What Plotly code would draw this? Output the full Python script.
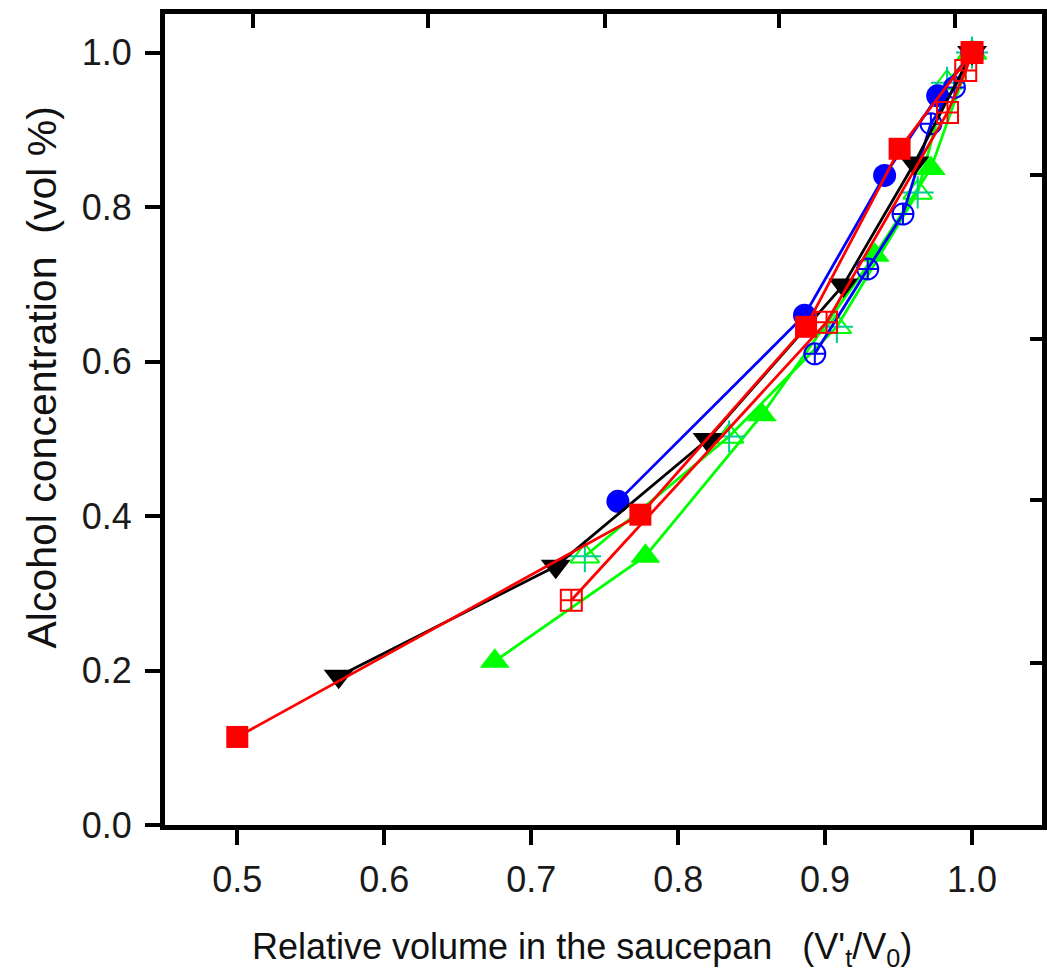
import plotly.graph_objects as go

# ---- data ----
blue_fill_x = [0.759, 0.886, 0.9405, 0.9766, 1.0]
blue_fill_y = [0.419, 0.660, 0.841, 0.944, 1.0]

blue_open_x = [0.893, 0.929, 0.953, 0.972, 0.988, 1.0]
blue_open_y = [0.610, 0.720, 0.791, 0.908, 0.955, 1.0]

black_x = [0.569, 0.7167, 0.820, 0.9124, 0.9608, 1.0]
black_y = [0.1925, 0.335, 0.499, 0.699, 0.857, 1.0]

green_fill_x = [0.6752, 0.7777, 0.857, 0.9338, 0.972, 1.0]
green_fill_y = [0.212, 0.348, 0.531, 0.7377, 0.850, 1.0]

green_open_x = [0.7365, 0.8347, 0.908, 0.963, 0.983, 1.0]
green_open_y = [0.348, 0.503, 0.645, 0.819, 0.961, 1.0]

red_fill_x = [0.5, 0.7743, 0.887, 0.9507, 1.0]
red_fill_y = [0.114, 0.4018, 0.645, 0.8755, 1.0]

red_open_x = [0.7273, 0.901, 0.9833, 0.9957, 1.0]
red_open_y = [0.291, 0.651, 0.9225, 0.977, 1.0]

x_ticks = [0.5, 0.6, 0.7, 0.8, 0.9, 1.0]
y_ticks = [0.0, 0.2, 0.4, 0.6, 0.8, 1.0]
top_ticks = [0.5104, 0.6301, 0.7503, 0.8689, 0.9886]
right_ticks = [0.2096, 0.4204, 0.6294, 0.841]

x_title = "Relative volume in the saucepan&nbsp;&nbsp;&nbsp;(V'<sub>t</sub>/V<sub>0</sub>)"
y_title = "Alcohol concentration&nbsp; (vol %)"

BLUE, GREEN, RED, BLACK = "#0000FF", "#00FF00", "#FF0000", "#000000"
LW = 2.8
FONT = "Arial, Liberation Sans, sans-serif"

fig = go.Figure()

def add(x, y, color, symbol, size, filled=True, lw_marker=2):
    marker = dict(symbol=symbol, size=size, color=color)
    if not filled:
        marker["line"] = dict(color=color, width=lw_marker)
    else:
        marker["line"] = dict(width=0)
    fig.add_trace(go.Scatter(x=x, y=y, mode="lines+markers",
                             line=dict(color=color, width=LW),
                             marker=marker, showlegend=False))

add(green_fill_x, green_fill_y, GREEN, "triangle-up", 26)
add(green_open_x, green_open_y, GREEN, "triangle-up-open", 25, filled=False)
fig.add_trace(go.Scatter(x=green_open_x, y=green_open_y, mode="markers",
                         marker=dict(symbol="cross-thin-open", size=23,
                                     line=dict(color=GREEN, width=2)),
                         showlegend=False))
add(blue_open_x, blue_open_y, BLUE, "circle-cross-open", 21, filled=False)
add(blue_fill_x, blue_fill_y, BLUE, "circle", 23)
add(black_x, black_y, BLACK, "triangle-down", 26)
add(red_open_x, red_open_y, RED, "square-cross-open", 21, filled=False)
add(red_fill_x, red_fill_y, RED, "square", 22)

# empty trace so the secondary (tick-only) top/right axes get drawn
fig.add_trace(go.Scatter(x=[], y=[], xaxis="x2", yaxis="y2", showlegend=False,
                         hoverinfo="skip"))

XR = [0.4508, 1.0476]
YR = [0.0, 1.05]

fig.update_layout(
    width=1047, height=979,
    margin=dict(l=165, r=0, t=14, b=154),
    paper_bgcolor="white", plot_bgcolor="white",
    font=dict(family=FONT, color="#1a1a1a"),
    xaxis=dict(range=XR, tickvals=x_ticks, ticktext=[f"{v:.1f}" for v in x_ticks],
               showgrid=False, zeroline=False,
               showline=True, linecolor="black", linewidth=5, mirror=True,
               ticks="outside", ticklen=15, tickwidth=4, tickcolor="black",
               tickfont=dict(size=36, family=FONT), ticklabelstandoff=4),
    yaxis=dict(range=YR, tickvals=y_ticks, ticktext=[f"{v:.1f}" for v in y_ticks],
               showgrid=False, zeroline=False,
               showline=True, linecolor="black", linewidth=5, mirror=True,
               ticks="outside", ticklen=15, tickwidth=4, tickcolor="black",
               tickfont=dict(size=36, family=FONT), ticklabelstandoff=6),
    xaxis2=dict(range=XR, overlaying="x", side="top", anchor="y2",
                tickvals=top_ticks, showticklabels=False, showgrid=False,
                zeroline=False, showline=False,
                ticks="inside", ticklen=14, tickwidth=4, tickcolor="black"),
    yaxis2=dict(range=YR, overlaying="y", side="right", anchor="x2",
                tickvals=right_ticks, showticklabels=False, showgrid=False,
                zeroline=False, showline=False,
                ticks="inside", ticklen=12, tickwidth=4, tickcolor="black"),
    annotations=[
        dict(text=x_title, xref="paper", yref="paper", x=0.476, y=-0.122,
             xanchor="center", yanchor="top", showarrow=False,
             font=dict(size=36, family=FONT, color="#111")),
        dict(text=y_title, xref="paper", yref="paper", x=-0.14, y=0.552,
             xanchor="center", yanchor="middle", textangle=-90, showarrow=False,
             font=dict(size=41, family=FONT, color="#111")),
    ],
)

fig.write_html("out.html",
               config={"displayModeBar": False},
               post_script="document.body.style.margin='0';"
                           "document.body.style.overflow='hidden';")
